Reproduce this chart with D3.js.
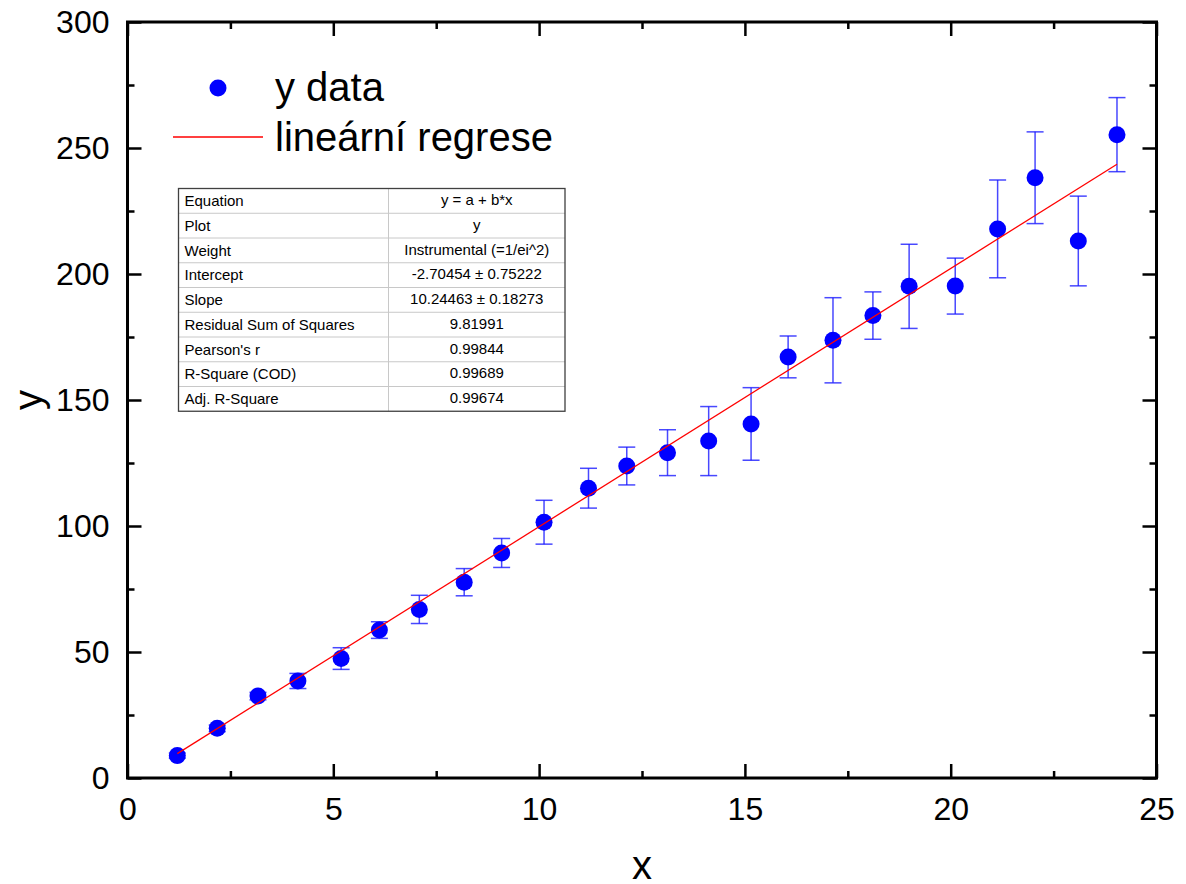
<!DOCTYPE html>
<html>
<head>
<meta charset="utf-8">
<script src="https://cdn.jsdelivr.net/npm/d3@7"></script>
<style>
    body { margin: 0; background: #fff; }
    svg { font-family: "Liberation Sans", Arial, sans-serif; }
</style>
</head>
<body>
<div id="chart"></div>
<script>
// data
let x_data = [1.21, 2.18, 3.17, 4.14, 5.19, 6.12, 7.09, 8.18, 9.09, 10.12, 11.2, 12.13,
              13.12, 14.12, 15.15, 16.05, 17.14, 18.11, 18.99, 20.11, 21.14, 22.05, 23.1, 24.04];
let y_data = [8.9, 19.7, 32.5, 38.5, 47.4, 58.7, 66.9, 77.7, 89.3, 101.5, 115.0, 123.8,
              129.1, 133.7, 140.5, 167.1, 173.7, 183.5, 195.1, 195.2, 217.9, 238.2, 213.1, 255.3];
let y_err = [1.0, 1.3, 1.5, 3.0, 4.3, 3.3, 5.6, 5.4, 5.75, 8.7, 7.9, 7.5,
             9.1, 13.7, 14.4, 8.3, 16.9, 9.4, 16.7, 11.1, 19.4, 18.2, 17.8, 14.7];

// fit result (from the table)
let intercept = -2.70454;
let slope = 10.24463;

let table_labels = ["Equation", "Plot", "Weight", "Intercept", "Slope", "Residual Sum of Squares",
                    "Pearson's r", "R-Square (COD)", "Adj. R-Square"];
let table_values = ["y = a + b*x", "y", "Instrumental (=1/ei^2)", "-2.70454 \u00b1 0.75222",
                    "10.24463 \u00b1 0.18273", "9.81991", "0.99844", "0.99689", "0.99674"];

let legend_labels = ["y data", "line\u00e1rn\u00ed regrese"];

let x_ticks = [0, 5, 10, 15, 20, 25];
let x_minor = [2.5, 7.5, 12.5, 17.5, 22.5];
let y_ticks = [0, 50, 100, 150, 200, 250, 300];
let y_minor = [25, 75, 125, 175, 225, 275];

let width = 1186, height = 884;
let m_left = 127.5, m_right = 1156.5, m_top = 22, m_bottom = 778;

let svg = d3.select("#chart")
    .append("svg")
    .attr("width", width)
    .attr("height", height);

let x = d3.scaleLinear().domain([0, 25]).range([m_left, m_right]);
let y = d3.scaleLinear().domain([0, 300]).range([m_bottom, m_top]);

// axes: ticks point inward on all four sides
function tick_axis(axis, pos, values, size, labels) {
    let g = svg.append("g")
        .attr("transform", pos)
        .call(axis.tickValues(values).tickSize(-size).tickSizeOuter(0)
            .tickFormat(labels ? d3.format("d") : ""));
    g.select(".domain").remove();
    g.selectAll(".tick line").attr("stroke", "#000").attr("stroke-width", 2.5);
    g.selectAll("text").attr("fill", "#000").style("font-size", "32px");
    return g;
}
tick_axis(d3.axisBottom(x).tickPadding(19), "translate(0," + m_bottom + ")", x_ticks, 14, true);
tick_axis(d3.axisBottom(x), "translate(0," + m_bottom + ")", x_minor, 7, false);
tick_axis(d3.axisTop(x), "translate(0," + m_top + ")", x_ticks, 14, false);
tick_axis(d3.axisTop(x), "translate(0," + m_top + ")", x_minor, 7, false);
tick_axis(d3.axisLeft(y).tickPadding(18), "translate(" + m_left + ",0)", y_ticks, 14, true);
tick_axis(d3.axisLeft(y), "translate(" + m_left + ",0)", y_minor, 7, false);
tick_axis(d3.axisRight(y), "translate(" + m_right + ",0)", y_ticks, 14, false);
tick_axis(d3.axisRight(y), "translate(" + m_right + ",0)", y_minor, 7, false);

svg.append("rect")
    .attr("x", m_left).attr("y", m_top)
    .attr("width", m_right - m_left).attr("height", m_bottom - m_top)
    .attr("fill", "none")
    .attr("stroke", "#000")
    .attr("stroke-width", 3);

// axis titles
svg.append("text")
    .attr("x", x(12.5)).attr("y", 879)
    .attr("text-anchor", "middle")
    .style("font-size", "40px")
    .text("x");
svg.append("text")
    .attr("transform", "translate(42," + y(150) + ") rotate(-90)")
    .attr("text-anchor", "middle")
    .style("font-size", "40px")
    .text("y");

let points = x_data.map(function(d, i) {
    return {x: d, y: y_data[i], e: y_err[i]};
});

// error bars
let cap = 8.5;
let bars = svg.append("g")
    .attr("stroke", "#1a1aff")
    .attr("stroke-opacity", 0.8)
    .attr("stroke-width", 1.5)
    .selectAll("g")
    .data(points)
    .enter().append("g");
bars.append("line")
    .attr("x1", function(d) { return x(d.x); })
    .attr("x2", function(d) { return x(d.x); })
    .attr("y1", function(d) { return y(d.y + d.e); })
    .attr("y2", function(d) { return y(d.y - d.e); });
bars.append("line")
    .attr("x1", function(d) { return x(d.x) - cap; })
    .attr("x2", function(d) { return x(d.x) + cap; })
    .attr("y1", function(d) { return y(d.y + d.e); })
    .attr("y2", function(d) { return y(d.y + d.e); });
bars.append("line")
    .attr("x1", function(d) { return x(d.x) - cap; })
    .attr("x2", function(d) { return x(d.x) + cap; })
    .attr("y1", function(d) { return y(d.y - d.e); })
    .attr("y2", function(d) { return y(d.y - d.e); });

// markers
svg.append("g")
    .selectAll("circle")
    .data(points)
    .enter().append("circle")
    .attr("cx", function(d) { return x(d.x); })
    .attr("cy", function(d) { return y(d.y); })
    .attr("r", 8.5)
    .attr("fill", "#0000ff");

// regression line over the data range
let x_ext = d3.extent(x_data);
svg.append("line")
    .attr("x1", x(x_ext[0])).attr("y1", y(intercept + slope * x_ext[0]))
    .attr("x2", x(x_ext[1])).attr("y2", y(intercept + slope * x_ext[1]))
    .attr("stroke", "#ff0000")
    .attr("stroke-width", 1.3);

// legend
svg.append("circle")
    .attr("cx", 218).attr("cy", 88).attr("r", 8.5)
    .attr("fill", "#0000ff");
svg.append("line")
    .attr("x1", 173).attr("x2", 263).attr("y1", 137).attr("y2", 137)
    .attr("stroke", "#ff0000").attr("stroke-width", 1.3);
svg.selectAll(".legend-text")
    .data(legend_labels)
    .enter().append("text")
    .attr("class", "legend-text")
    .attr("x", 275)
    .attr("y", function(d, i) { return 101 + i * 50; })
    .style("font-size", "40px")
    .text(function(d) { return d; });

// fit table
let tx = 178.5, ty = 188.5, row_h = 24.75, col = 388.5, tw = 565 - 178.5;
let table = svg.append("g");
table.selectAll(".row-line")
    .data(d3.range(1, table_labels.length))
    .enter().append("line")
    .attr("x1", tx).attr("x2", tx + tw)
    .attr("y1", function(d) { return ty + d * row_h; })
    .attr("y2", function(d) { return ty + d * row_h; })
    .attr("stroke", "#c8c8c8").attr("stroke-width", 1);
table.append("line")
    .attr("x1", col).attr("x2", col)
    .attr("y1", ty).attr("y2", ty + row_h * table_labels.length)
    .attr("stroke", "#c8c8c8").attr("stroke-width", 1);
table.append("rect")
    .attr("x", tx).attr("y", ty)
    .attr("width", tw).attr("height", row_h * table_labels.length)
    .attr("fill", "none").attr("stroke", "#404040").attr("stroke-width", 1.3);
table.selectAll(".lbl")
    .data(table_labels)
    .enter().append("text")
    .attr("class", "lbl")
    .attr("x", tx + 6)
    .attr("y", function(d, i) { return ty + i * row_h + 17.5; })
    .style("font-size", "15px")
    .text(function(d) { return d; });
table.selectAll(".val")
    .data(table_values)
    .enter().append("text")
    .attr("class", "val")
    .attr("x", (col + tx + tw) / 2)
    .attr("y", function(d, i) { return ty + i * row_h + 16.5; })
    .attr("text-anchor", "middle")
    .style("font-size", "15px")
    .text(function(d) { return d; });
</script>
</body>
</html>
